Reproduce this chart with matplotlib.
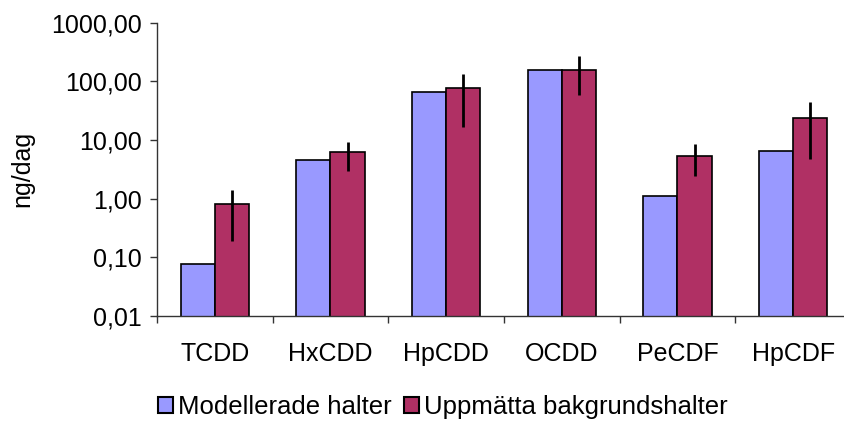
import numpy as np
import matplotlib
matplotlib.use("Agg")
import matplotlib.pyplot as plt
from matplotlib.ticker import FixedLocator, FuncFormatter, NullFormatter
from matplotlib.patches import Patch

plt.rcParams["font.family"] = ["Liberation Sans", "DejaVu Sans"]

# congeners and daily intake (ng/dag)
categories = ["TCDD", "HxCDD", "HpCDD", "OCDD", "PeCDF", "HpCDF"]
modelled = [0.078, 4.5, 65, 155, 1.1, 6.6]
measured = [0.81, 6.2, 76, 155, 5.3, 24]
measured_low = [0.19, 3.0, 17, 59, 2.4, 4.8]
measured_high = [1.4, 9.3, 134, 271, 8.6, 45]

blue = "#9999FF"
plum = "#B03064"
fs = 18

fig = plt.figure(figsize=(8.45, 4.21), dpi=100)
ax = fig.add_axes([157 / 845, 1 - 316 / 421, 694 / 845, (316 - 22.7) / 421])

x = np.arange(len(categories))
w = 0.295
ax.bar(x - w / 2, modelled, width=w, color=blue, edgecolor="black", linewidth=1.2)
ax.bar(x + w / 2, measured, width=w, color=plum, edgecolor="black", linewidth=1.2)

meas = np.array(measured)
yerr = [meas - np.array(measured_low), np.array(measured_high) - meas]
ax.errorbar(x + w / 2, meas, yerr=yerr, fmt="none", ecolor="black", elinewidth=2, capsize=0)

ax.set_yscale("log")
ax.set_ylim(0.01, 1000)
ax.set_xlim(-0.5, len(categories) - 0.5)
ax.yaxis.set_major_locator(FixedLocator([0.01, 0.1, 1, 10, 100, 1000]))
ax.yaxis.set_minor_locator(FixedLocator([]))
ax.yaxis.set_major_formatter(FuncFormatter(lambda v, p: f"{v:.2f}".replace(".", ",")))
ax.tick_params(axis="y", labelsize=fs, length=5, width=1, color="#333333", pad=6)

ax.set_xticks(x)
ax.set_xticklabels(categories)
ax.set_xticks(np.arange(len(categories) + 1) - 0.5, minor=True)
ax.xaxis.set_minor_formatter(NullFormatter())
ax.tick_params(axis="x", which="major", length=0, labelsize=fs, pad=19)
ax.tick_params(axis="x", which="minor", length=5, width=1, color="#333333")

for s in ["top", "right"]:
    ax.spines[s].set_visible(False)
for s in ["left", "bottom"]:
    ax.spines[s].set_color("#333333")
    ax.spines[s].set_linewidth(1)

ax.set_ylabel("ng/dag", fontsize=fs, labelpad=12)

handles = [Patch(facecolor=blue, edgecolor="black", linewidth=1.5),
           Patch(facecolor=plum, edgecolor="black", linewidth=1.5)]
fig.legend(handles, ["Modellerade halter", "Uppmätta bakgrundshalter"],
           loc="center", bbox_to_anchor=(0.524, 1 - 407 / 421), ncol=2, frameon=False,
           fontsize=fs + 0.5, handlelength=0.6, handleheight=0.6, handletextpad=0.2,
           columnspacing=0.45, borderaxespad=0, borderpad=0)

fig.savefig("out.png", dpi=100)
